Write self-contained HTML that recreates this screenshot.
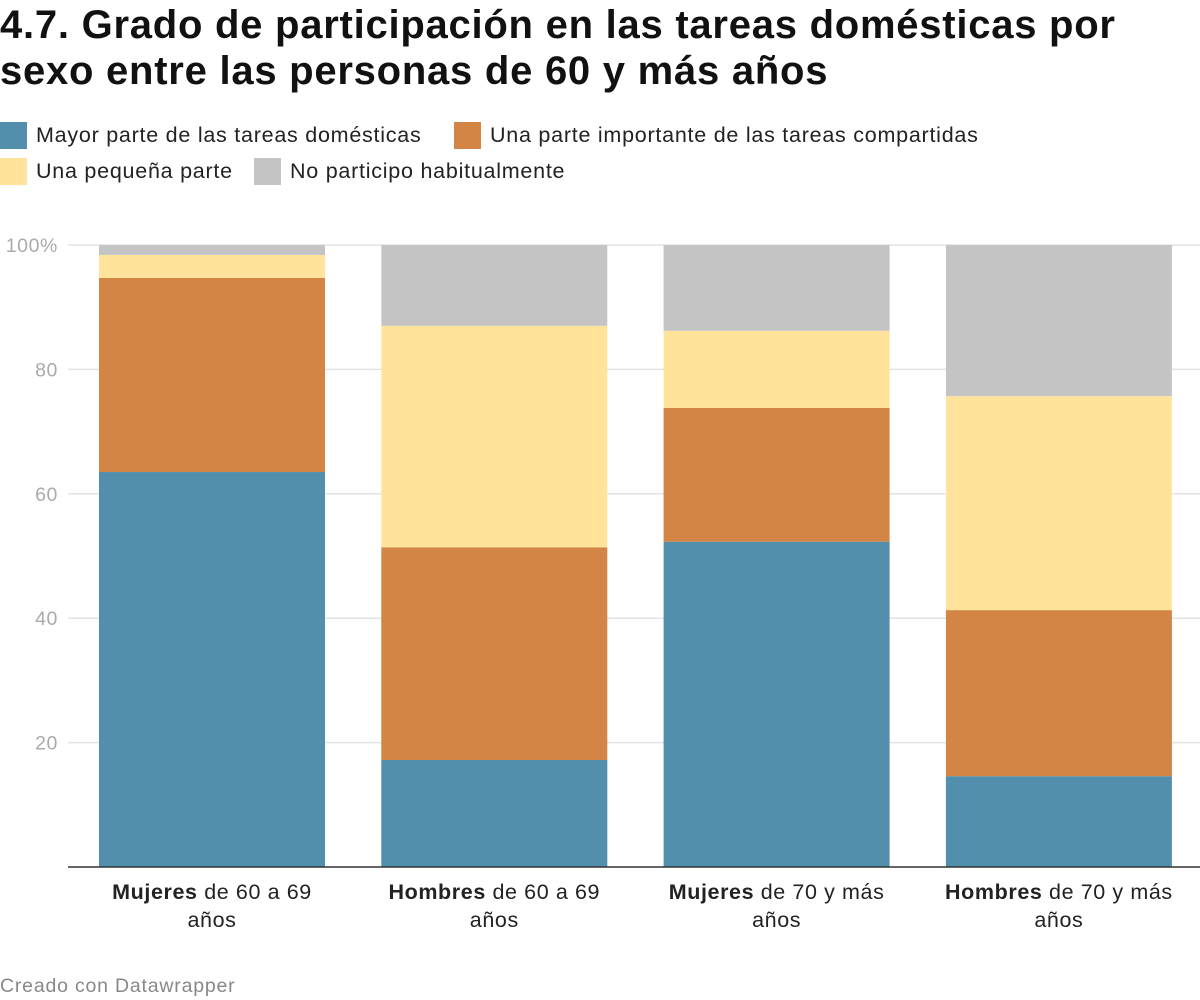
<!DOCTYPE html>
<html><head><meta charset="utf-8"><style>
body{margin:0;width:1200px;height:1000px;background:#fff;font-family:"Liberation Sans",sans-serif;overflow:hidden;position:relative}
h1{position:absolute;left:0;top:2px;margin:0;font-size:40px;line-height:46px;font-weight:bold;color:#111;letter-spacing:0.75px;white-space:nowrap}
.leg{position:absolute;font-size:21.5px;color:#222;display:flex;align-items:center;letter-spacing:0.75px;white-space:nowrap}
.sw{width:27px;height:27px;margin-right:9px}
.foot{position:absolute;left:0;top:975px;font-size:19.5px;color:#888;letter-spacing:0.8px}
</style></head><body>
<h1>4.7. Grado de participación en las tareas domésticas por<br>sexo entre las personas de 60 y más años</h1>
<div class="leg" style="left:0;top:122px"><div class="sw" style="background:#528fad"></div>Mayor parte de las tareas domésticas</div>
<div class="leg" style="left:454px;top:122px"><div class="sw" style="background:#d38545"></div>Una parte importante de las tareas compartidas</div>
<div class="leg" style="left:0;top:158px"><div class="sw" style="background:#ffe39a"></div>Una pequeña parte</div>
<div class="leg" style="left:254px;top:158px"><div class="sw" style="background:#c4c4c4"></div>No participo habitualmente</div>
<svg id="chart" width="1200" height="1000" style="position:absolute;left:0;top:0"></svg>
<div class="foot">Creado con Datawrapper</div>
<script>
const categories=[["Mujeres"," de 60 a 69","años"],["Hombres"," de 60 a 69","años"],["Mujeres"," de 70 y más","años"],["Hombres"," de 70 y más","años"]];
const mayorParte=[63.5,17.2,52.3,14.6];
const parteImportante=[31.2,34.2,21.5,26.7];
const pequenaParte=[3.7,35.6,12.4,34.4];
const noParticipo=[1.6,13.0,13.8,24.3];
const ticks=[20,40,60,80,100];
const tickLabels=["20","40","60","80","100%"];
const NS="http://www.w3.org/2000/svg",svg=document.getElementById("chart");
const y0=867,y100=245;
const y=v=>y0-(y0-y100)*v/100;
const bx=i=>99+i*282.3, bw=226;
function mk(t,a){const e=document.createElementNS(NS,t);for(const k in a)e.setAttribute(k,a[k]);svg.appendChild(e);return e;}
ticks.forEach((t,i)=>{
 const l=mk("line",{x1:68,x2:1200,y1:y(t),y2:y(t),stroke:"#e3e3e3","stroke-width":1.5});
 
 
 const tx=mk("text",{x:58,y:y(t)+7,"text-anchor":"end","font-size":19.5,fill:"#aaa","letter-spacing":"0.6","font-family":"Liberation Sans, sans-serif"});
 tx.textContent=tickLabels[i];
 
 
});
const series=[[mayorParte,"#528fad","mayor-parte"],[parteImportante,"#d38545","parte-importante"],[pequenaParte,"#ffe39a","pequena-parte"],[noParticipo,"#c4c4c4","no-participo"]];
categories.forEach((c,i)=>{
 let acc=0;
 series.forEach(s=>{
  const v=s[0][i];
  const r=mk("rect",{x:bx(i),y:y(acc+v),width:bw,height:y(acc)-y(acc+v),fill:s[1]});
  
  
  acc+=v;
 });
 const cx=bx(i)+bw/2;
 const t=mk("text",{x:cx,y:899,"text-anchor":"middle","font-size":21.5,fill:"#222","letter-spacing":"0.6","font-family":"Liberation Sans, sans-serif"});
 const b=document.createElementNS(NS,"tspan");b.setAttribute("font-weight","bold");b.textContent=c[0];t.appendChild(b);
 const r=document.createElementNS(NS,"tspan");r.textContent=c[1];t.appendChild(r);
 
 
 const t2=mk("text",{x:cx,y:927,"text-anchor":"middle","font-size":21.5,fill:"#222","letter-spacing":"0.6","font-family":"Liberation Sans, sans-serif"});
 t2.textContent=c[2];
 
 
});
const ax=mk("line",{x1:68,x2:1200,y1:y0,y2:y0,stroke:"#333","stroke-width":1.5});


</script>
</body></html>
